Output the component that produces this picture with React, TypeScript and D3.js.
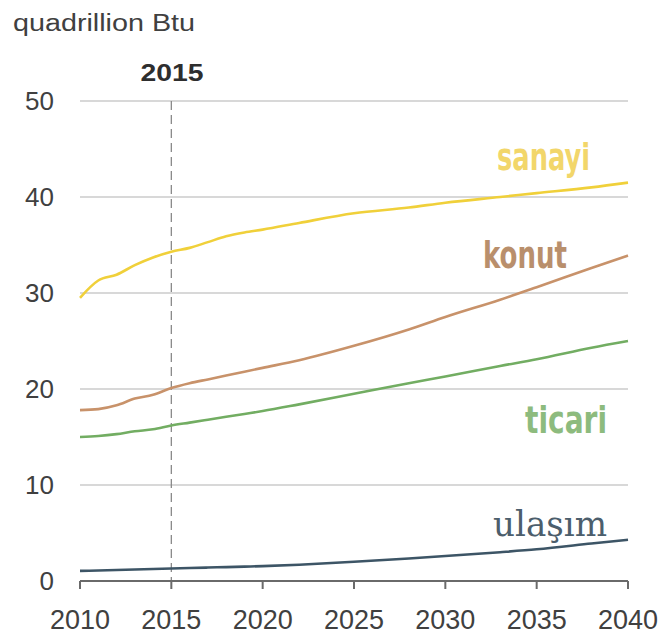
import React from "react";
import * as d3 from "d3";

const years = [2010, 2011, 2012, 2013, 2014, 2015, 2016, 2017, 2018, 2019, 2020, 2022, 2025, 2028, 2030, 2033, 2035, 2038, 2040];
const sanayi = [29.5, 31.3, 31.9, 32.9, 33.7, 34.3, 34.7, 35.3, 35.9, 36.3, 36.6, 37.3, 38.3, 38.9, 39.4, 40.0, 40.4, 41.0, 41.5];
const konut = [17.8, 17.9, 18.3, 19.0, 19.4, 20.1, 20.6, 21.0, 21.4, 21.8, 22.2, 23.0, 24.5, 26.2, 27.5, 29.3, 30.6, 32.6, 33.9];
const ticari = [15.0, 15.1, 15.3, 15.6, 15.8, 16.2, 16.5, 16.8, 17.1, 17.4, 17.7, 18.4, 19.5, 20.6, 21.3, 22.4, 23.1, 24.3, 25.0];
const ulasim = [1.05, 1.1, 1.15, 1.2, 1.25, 1.3, 1.35, 1.4, 1.45, 1.5, 1.55, 1.7, 2.0, 2.35, 2.6, 3.0, 3.3, 3.9, 4.3];

const yTicks = [0, 10, 20, 30, 40, 50];
const xTicks = [2010, 2015, 2020, 2025, 2030, 2035, 2040];

const series = [
  { name: "sanayi", values: sanayi, color: "#f0d03a" },
  { name: "konut", values: konut, color: "#c8926a" },
  { name: "ticari", values: ticari, color: "#72ad62" },
  { name: "ulaşım", values: ulasim, color: "#3d5566" },
];

export default function App() {
  const x = d3.scaleLinear().domain([2010, 2040]).range([80, 628]);
  const y = d3.scaleLinear().domain([0, 50]).range([581, 101]);
  const line = (vals: number[]) =>
    d3.line<number>().x((_, i) => x(years[i])).y((d) => y(d)).curve(d3.curveMonotoneX)(vals) || "";

  return (
    <svg width={660} height={640} style={{ position: "absolute", left: 0, top: 0, background: "#fff" }}
      fontFamily="Liberation Sans, Arial, sans-serif">
      <text x={13} y={31} fontSize={23} fill="#404040" textLength={182} lengthAdjust="spacingAndGlyphs">quadrillion Btu</text>
      <text x={172} y={81} fontSize={24} fontWeight="bold" fill="#2e2e2e" textAnchor="middle" textLength={63} lengthAdjust="spacingAndGlyphs">2015</text>

      {yTicks.filter((t) => t > 0).map((t) => (
        <line key={t} x1={x(2010)} x2={x(2040)} y1={y(t)} y2={y(t)} stroke="#d8d8d8" strokeWidth={2} />
      ))}
      {yTicks.map((t) => (
        <text key={"yl" + t} x={54} y={y(t) + 9} fontSize={26} fill="#404040" textAnchor="end">{t}</text>
      ))}

      <line x1={x(2015)} x2={x(2015)} y1={y(50)} y2={y(0)} stroke="#8a8a8a" strokeWidth={1.3} strokeDasharray="9,5" />

      <line x1={x(2010)} x2={x(2040)} y1={y(0)} y2={y(0)} stroke="#6a6a6a" strokeWidth={2} />
      {xTicks.map((t) => (
        <g key={"xt" + t}>
          <line x1={x(t)} x2={x(t)} y1={y(0)} y2={y(0) + 8} stroke="#6a6a6a" strokeWidth={2} />
          <text x={x(t)} y={629} fontSize={27} fill="#404040" textAnchor="middle">{t}</text>
        </g>
      ))}

      {series.map((s) => (
        <path key={s.name} d={line(s.values)} fill="none" stroke={s.color} strokeWidth={2.6} strokeLinejoin="round" />
      ))}

      <text x={497} y={170} fontSize={38} fill="#f2d66a" fontFamily="DejaVu Sans Condensed, DejaVu Sans" fontWeight="bold" textLength={93} lengthAdjust="spacingAndGlyphs">sanayi</text>
      <text x={483} y={268} fontSize={38} fill="#b98f6c" fontFamily="DejaVu Sans Condensed, DejaVu Sans" fontWeight="bold" textLength={84} lengthAdjust="spacingAndGlyphs">konut</text>
      <text x={525} y={433} fontSize={38} fill="#8dbb7e" fontFamily="DejaVu Sans Condensed, DejaVu Sans" fontWeight="bold" textLength={82} lengthAdjust="spacingAndGlyphs">ticari</text>
      <text x={493} y={536} fontSize={36} fill="#4c5e6c" fontFamily="DejaVu Serif, Liberation Serif, serif" textLength={114} lengthAdjust="spacingAndGlyphs">ulaşım</text>
    </svg>
  );
}
